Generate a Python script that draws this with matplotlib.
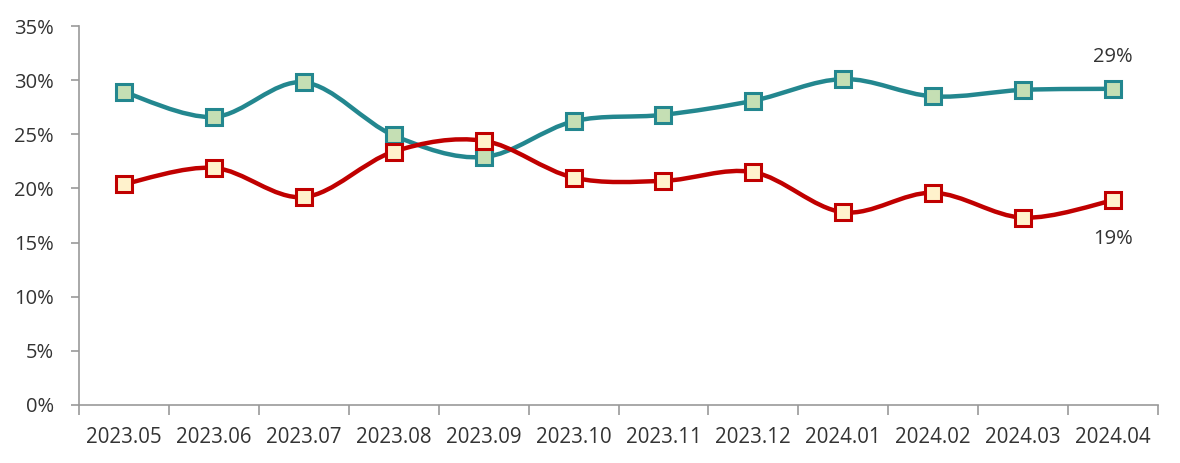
import matplotlib
matplotlib.use("Agg")
import matplotlib.pyplot as plt
import numpy as np
from matplotlib.path import Path
from matplotlib.patches import PathPatch
from matplotlib.ticker import FixedLocator, FuncFormatter

categories = ["2023.05", "2023.06", "2023.07", "2023.08", "2023.09", "2023.10",
              "2023.11", "2023.12", "2024.01", "2024.02", "2024.03", "2024.04"]
teal_values = [28.9, 26.6, 29.8, 24.9, 22.9, 26.2, 26.8, 28.1, 30.1, 28.5, 29.1, 29.2]
red_values = [20.4, 21.9, 19.2, 23.4, 24.4, 21.0, 20.7, 21.5, 17.8, 19.6, 17.3, 18.9]
y_ticks = [0, 5, 10, 15, 20, 25, 30, 35]
end_labels = ["29%", "19%"]

plt.rcParams['font.family'] = ['Open Sans', 'DejaVu Sans']

fig = plt.figure(figsize=(11.8, 4.63), dpi=100)
ax = fig.add_axes([79/1180, 1 - 405/463, (1158-79)/1180, (405-26)/463])

x = np.arange(len(categories))


def smooth_path(xs, ys):
    xs = np.asarray(xs, float)
    ys = np.asarray(ys, float)
    n = len(xs)
    verts = [(xs[0], ys[0])]
    codes = [Path.MOVETO]
    for i in range(n - 1):
        p0 = (xs[max(i-1, 0)], ys[max(i-1, 0)])
        p1 = (xs[i], ys[i])
        p2 = (xs[i+1], ys[i+1])
        p3 = (xs[min(i+2, n-1)], ys[min(i+2, n-1)])
        c1 = (p1[0] + (p2[0]-p0[0])/6, p1[1] + (p2[1]-p0[1])/6)
        c2 = (p2[0] - (p3[0]-p1[0])/6, p2[1] - (p3[1]-p1[1])/6)
        verts += [c1, c2, p2]
        codes += [Path.CURVE4, Path.CURVE4, Path.CURVE4]
    return Path(verts, codes)


teal = "#23878F"
red = "#C00000"
for vals, lc, fc in [(teal_values, teal, "#C5DFB4"), (red_values, red, "#FFF2CC")]:
    ax.add_patch(PathPatch(smooth_path(x, vals), fill=False, edgecolor=lc,
                           lw=3.2, capstyle='round', joinstyle='round', zorder=2))
    ax.plot(x, vals, linestyle='none', marker='s', markersize=11.5,
            markerfacecolor=fc, markeredgecolor=lc, markeredgewidth=2.2, zorder=3)

ax.annotate(end_labels[0], (x[-1], teal_values[-1]), xytext=(0, 23),
            textcoords='offset points', ha='center', va='center',
            fontsize=14.5, color='#333333')
ax.annotate(end_labels[1], (x[-1], red_values[-1]), xytext=(0, -28),
            textcoords='offset points', ha='center', va='center',
            fontsize=14.5, color='#333333')

ax.set_xlim(-0.5, len(categories) - 0.5)
ax.set_ylim(0, 35)
ax.set_yticks(y_ticks)
ax.yaxis.set_major_formatter(FuncFormatter(lambda v, p: f"{int(v)}%"))

ax.set_xticks(x)
ax.set_xticklabels(categories)
ax.xaxis.set_minor_locator(FixedLocator(np.arange(-0.5, len(categories), 1.0)))
ax.tick_params(axis='x', which='major', length=0, pad=16, labelsize=14.8, labelcolor='#333333')
ax.tick_params(axis='x', which='minor', length=7, width=1.2, color='#999999', direction='out')
ax.tick_params(axis='y', which='major', length=6, width=1.2, color='#999999',
               labelsize=14.5, labelcolor='#333333', pad=12)

for s in ['top', 'right']:
    ax.spines[s].set_visible(False)
for s in ['left', 'bottom']:
    ax.spines[s].set_color('#999999')
    ax.spines[s].set_linewidth(1.2)

fig.savefig("out.png", dpi=100)
